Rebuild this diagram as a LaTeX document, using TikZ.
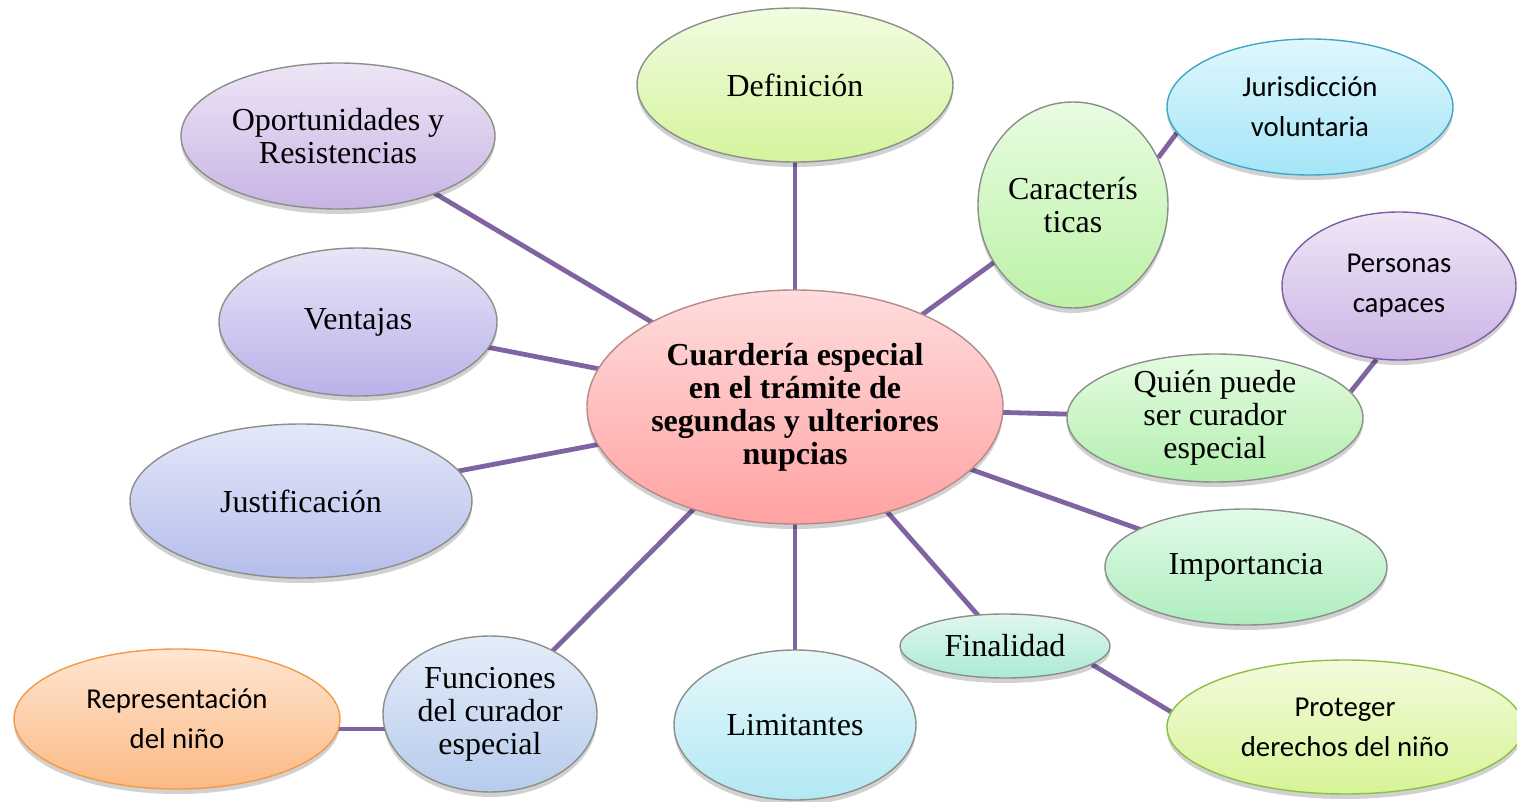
\documentclass[tikz,border=0pt]{standalone}
\usepackage{fontspec}
\setmainfont{Liberation Serif}
\newfontfamily\calfont{Carlito}
\usetikzlibrary{shapes.geometric,backgrounds,shadows}
\definecolor{linkc}{HTML}{8064A2}
\definecolor{edgegrey}{HTML}{8A8F88}
\definecolor{cT}{HTML}{FFDCDC}\definecolor{cB}{HTML}{FFA2A2}\definecolor{cE}{HTML}{B48A8A}
\definecolor{defT}{HTML}{F2FCE2}\definecolor{defB}{HTML}{D4F49C}
\definecolor{opoT}{HTML}{EEE5F6}\definecolor{opoB}{HTML}{C8B4E4}
\definecolor{venT}{HTML}{E8E5F6}\definecolor{venB}{HTML}{B9B2EA}
\definecolor{jusT}{HTML}{E4E8F8}\definecolor{jusB}{HTML}{B4BDEC}
\definecolor{carT}{HTML}{E8FCE2}\definecolor{carB}{HTML}{BCF2A6}
\definecolor{jurT}{HTML}{E0F7FD}\definecolor{jurB}{HTML}{A4E5F8}\definecolor{jurE}{HTML}{3FA7C6}
\definecolor{perT}{HTML}{EFE6F6}\definecolor{perB}{HTML}{CBB4E6}\definecolor{perE}{HTML}{7E5EA0}
\definecolor{quiT}{HTML}{E5FBE2}\definecolor{quiB}{HTML}{B2EFAE}
\definecolor{impT}{HTML}{E2FAE8}\definecolor{impB}{HTML}{AEEDBF}
\definecolor{finT}{HTML}{E0F7EF}\definecolor{finB}{HTML}{ACEAD3}
\definecolor{proT}{HTML}{F4FBDC}\definecolor{proB}{HTML}{D6F496}\definecolor{proE}{HTML}{8CBF45}
\definecolor{limT}{HTML}{E8F8FB}\definecolor{limB}{HTML}{B2E8F3}
\definecolor{funT}{HTML}{E5EDF9}\definecolor{funB}{HTML}{B6CBEC}
\definecolor{repT}{HTML}{FFE6D2}\definecolor{repB}{HTML}{FBB984}\definecolor{repE}{HTML}{F39A48}
\begin{document}
\begin{tikzpicture}[x=0.5pt,y=-0.5pt,
  bub/.style n args={3}{ellipse, inner sep=0pt, align=center,
    top color=#1, bottom color=#2, draw=#3, line width=0.7pt,
    font=\fontsize{16}{16.5}\selectfont,
    drop shadow={shadow xshift=0pt, shadow yshift=-2.5pt, opacity=0.18, fill=black}},
  sz/.style 2 args={minimum width=#1pt, minimum height=#2pt},
  sans/.style={font=\calfont\fontsize{14.4}{20}\selectfont},
  link/.style={draw=linkc, line width=2.4pt}]
\useasboundingbox (0,0) rectangle (1517,802);

\node[bub={cT}{cB}{cE}, sz={208}{117}, font=\bfseries\fontsize{16}{16.5}\selectfont] (c) at (795,407)
  {Cuardería especial\\en el trámite de\\segundas y ulteriores\\nupcias};
\node[bub={defT}{defB}{edgegrey}, sz={158}{77}] (def) at (795,85) {Definición};
\node[bub={opoT}{opoB}{edgegrey}, sz={157}{73}] (opo) at (338,136) {Oportunidades y\\Resistencias};
\node[bub={venT}{venB}{edgegrey}, sz={139}{74}] (ven) at (358,322) {Ventajas};
\node[bub={jusT}{jusB}{edgegrey}, sz={171}{77}] (jus) at (301,501) {Justificación};
\node[bub={carT}{carB}{edgegrey}, sz={95}{103}] (car) at (1073,205) {Caracterís\\ticas};
\node[bub={jurT}{jurB}{jurE}, sz={143}{68}, sans] (jur) at (1310,107) {Jurisdicción\\voluntaria};
\node[bub={perT}{perB}{perE}, sz={117}{74}, sans] (per) at (1399,286) {Personas\\capaces};
\node[bub={quiT}{quiB}{edgegrey}, sz={148}{64}, inner sep=-3pt] (qui) at (1215,418) {Quién puede\\ser curador\\especial};
\node[bub={impT}{impB}{edgegrey}, sz={141}{58}] (imp) at (1246,567) {Importancia};
\node[bub={finT}{finB}{edgegrey}, sz={105}{32}] (fin) at (1005,646) {Finalidad};
\node[bub={proT}{proB}{proE}, sz={178}{67}, sans] (pro) at (1345,727) {Proteger\\derechos del niño};
\node[bub={limT}{limB}{edgegrey}, sz={121}{75}] (lim) at (795,725) {Limitantes};
\node[bub={funT}{funB}{edgegrey}, sz={107}{78}, inner sep=-2pt] (fun) at (490,714) {Funciones\\del curador\\especial};
\node[bub={repT}{repB}{repE}, sz={163}{70}, sans] (rep) at (177,719) {Representación\\del niño};

\coordinate (rf) at (177,729);
\begin{scope}[on background layer]
  \draw[link] (c.center) -- (def.center);
  \draw[link] (c.center) -- (opo.center);
  \draw[link] (c.center) -- (ven.center);
  \draw[link] (c.center) -- (jus.center);
  \draw[link] (c.center) -- (fun.center);
  \draw[link] (c.center) -- (lim.center);
  \draw[link] (c.center) -- (fin.center);
  \draw[link] (c.center) -- (imp.center);
  \draw[link] (c.center) -- (qui.center);
  \draw[link] (c.center) -- (car.center);
  \draw[link] (car.29) -- (jur.191);
  \draw[link] (qui.11) -- (per.253);
  \draw[link] (fin.-12) -- (pro.175);
  \draw[link] (rf) -- (fun.center |- rf);
\end{scope}
\end{tikzpicture}
\end{document}
